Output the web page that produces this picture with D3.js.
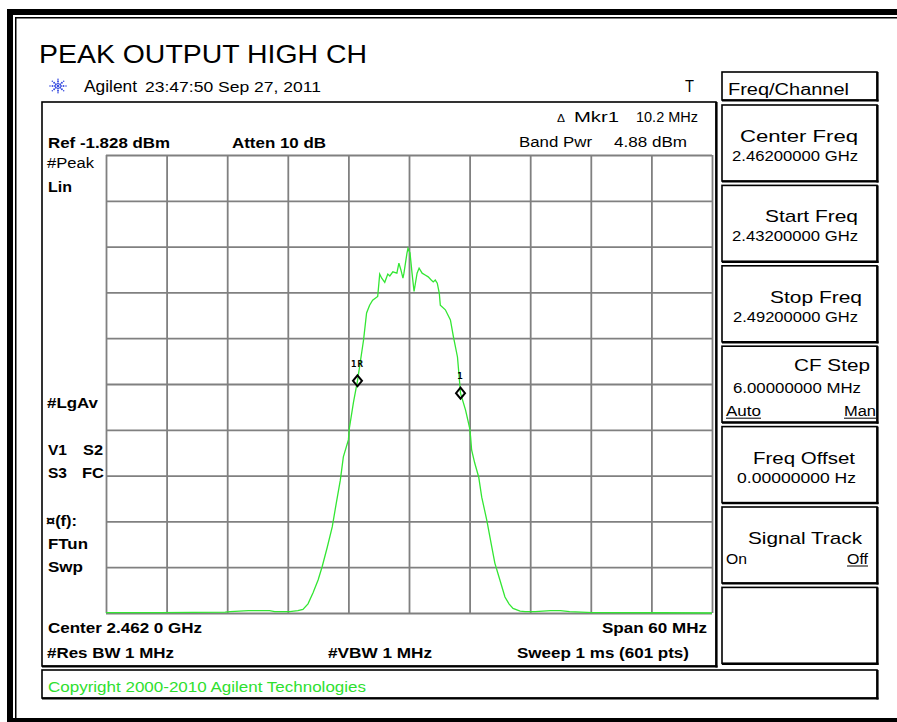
<!DOCTYPE html>
<html lang="en">
<head>
<meta charset="UTF-8">
<title>PEAK OUTPUT HIGH CH</title>
<script src="https://d3js.org/d3.v7.min.js"></script>
<style>
  body { margin: 0; padding: 0; background: #fff; }
  svg { display: block; font-family: "Liberation Sans", Arial, sans-serif; }
</style>
</head>
<body>
<div id="chart"></div>
<script>
// trace: frequency (MHz) and level (% of reference, linear)
const freqMHz = [
  2432.0, 2437.3, 2443.8, 2444.3, 2446.1, 2448.2, 2448.7, 2450.2, 2451.0, 2451.5,
  2452.0, 2452.5, 2453.0, 2453.4, 2453.9, 2454.4, 2454.8, 2455.2, 2455.5, 2456.0,
  2456.1, 2456.5, 2456.9, 2457.5, 2457.8, 2458.1, 2458.4, 2458.9, 2459.1, 2459.3,
  2459.6, 2459.9, 2460.1, 2460.4, 2460.8, 2461.0, 2461.2, 2461.4, 2461.5, 2461.8,
  2461.9, 2462.1, 2462.3, 2462.5, 2462.8, 2463.0, 2463.3, 2463.6, 2463.9, 2464.2,
  2464.4, 2464.6, 2464.8, 2465.0, 2465.1, 2465.6, 2466.1, 2466.4, 2466.8, 2467.1,
  2467.6, 2468.0, 2468.1, 2468.2, 2468.5, 2468.9, 2469.2, 2469.7, 2470.2, 2470.5,
  2471.0, 2471.5, 2471.9, 2472.3, 2473.0, 2473.5, 2474.5, 2476.0, 2477.0, 2477.9,
  2480.2, 2486.9, 2492.0
];
const levelPct = [
  0.1, 0.1, 0.2, 0.3, 0.5, 0.5, 0.3, 0.3, 0.5, 0.8,
  2.0, 4.4, 7.2, 10.1, 14.3, 18.8, 24.0, 29.0, 34.1, 37.8,
  40.4, 46.0, 50.7, 59.6, 65.5, 67.2, 68.3, 69.1, 74.0, 73.1,
  72.2, 74.0, 73.6, 74.5, 74.2, 76.4, 74.9, 73.1, 74.2, 78.6,
  79.6, 78.6, 74.2, 70.2, 74.2, 75.3, 74.2, 73.8, 73.4, 72.7,
  72.3, 72.7, 72.0, 69.8, 67.2, 66.2, 64.0, 60.3, 55.9, 48.0,
  44.3, 40.4, 38.4, 35.6, 32.8, 29.7, 25.3, 20.3, 14.4, 10.9,
  7.2, 3.5, 2.0, 1.0, 0.4, 0.3, 0.3, 0.5, 0.5, 0.3,
  0.1, 0.05, 0.0
];

const freqTicks = [2432, 2438, 2444, 2450, 2456, 2462, 2468, 2474, 2480, 2486, 2492];
const levelTicks = [0, 10, 20, 30, 40, 50, 60, 70, 80, 90, 100];

const markerNames = ["1R", "1"];
const markerFreqs = [2456.9, 2467.1];
const markerLevels = [50.7, 48.0];

const softkeyTitles = ["Center Freq", "Start Freq", "Stop Freq", "CF Step", "Freq Offset", "Signal Track", ""];
const softkeyValues = ["2.46200000 GHz", "2.43200000 GHz", "2.49200000 GHz", "6.00000000 MHz", "0.00000000  Hz", "", ""];

const W = 897, H = 722;
const svg = d3.select("#chart").append("svg").attr("width", W).attr("height", H);

// outer frame
svg.append("rect").attr("x", 7).attr("y", 9).attr("width", W - 7).attr("height", 6).attr("fill", "#000");
svg.append("rect").attr("x", 7).attr("y", 9).attr("width", 6).attr("height", H - 9).attr("fill", "#000");
svg.append("rect").attr("x", 7).attr("y", 718).attr("width", W - 7).attr("height", 4).attr("fill", "#000");
svg.append("rect").attr("x", 15).attr("y", 17).attr("width", W - 15).attr("height", 1.5).attr("fill", "#000");
svg.append("rect").attr("x", 15).attr("y", 17).attr("width", 1.5).attr("height", H - 17).attr("fill", "#000");

// helper: text squeezed/stretched to a measured width
function label(txt, x0, x1, y, size, opts = {}) {
  const t = svg.append("text")
    .attr("x", x0).attr("y", y)
    .attr("font-size", size)
    .attr("font-weight", opts.bold ? "bold" : "normal")
    .attr("fill", opts.color || "#000")
    .text(txt);
  if (x1 != null) t.attr("textLength", x1 - x0).attr("lengthAdjust", "spacingAndGlyphs");
  return t;
}

// 3d-ish box: thin top/left, heavier right/bottom
function box(x, y, w, h) {
  const g = svg.append("g");
  g.append("rect").attr("x", x).attr("y", y).attr("width", w).attr("height", h)
    .attr("fill", "none").attr("stroke", "#000").attr("stroke-width", 1.6);
  g.append("line").attr("x1", x + w + 0.5).attr("x2", x + w + 0.5).attr("y1", y).attr("y2", y + h + 1.5)
    .attr("stroke", "#000").attr("stroke-width", 2.2);
  g.append("line").attr("x1", x).attr("x2", x + w + 1.5).attr("y1", y + h + 0.5).attr("y2", y + h + 0.5)
    .attr("stroke", "#000").attr("stroke-width", 2.2);
}

// title
label("PEAK OUTPUT HIGH CH", 39, 367, 63, 25);

// agilent spark logo
const logo = svg.append("g").attr("transform", "translate(58,86)");
d3.range(8).forEach(i => {
  const a = i * Math.PI / 4;
  [3, 5.5, 8].forEach(r => {
    logo.append("circle").attr("cx", Math.cos(a) * r).attr("cy", Math.sin(a) * r * 0.85)
      .attr("r", r === 8 ? 0.8 : 1).attr("fill", "#3b4fe0");
  });
});
logo.append("circle").attr("r", 1.3).attr("fill", "#3b4fe0");

label("Agilent", 84, 137, 92, 16);
label("23:47:50  Sep 27, 2011", 145, 321, 92, 15);
label("T", 685, 694, 92, 16);

// screen frame
box(42, 102, 674, 564);

// annotations inside screen
label("\u0394", 557, 565, 122, 10);
label("Mkr1", 574, 619, 122, 14);
label("10.2 MHz", 636, 698, 122, 14);
label("Band Pwr", 519, 592, 147, 14);
label("4.88 dBm", 614, 687, 147, 14);
label("Ref -1.828 dBm", 48, 170, 148, 15, { bold: true });
label("Atten 10 dB", 232, 326, 148, 15, { bold: true });
label("#Peak", 47, 94, 168, 14);
label("Lin", 48, 72, 192, 15, { bold: true });
label("#LgAv", 47, 98, 408, 15, { bold: true });
label("V1", 48, 67, 455, 15, { bold: true });
label("S2", 83, 103, 455, 15, { bold: true });
label("S3", 48, 67, 478, 15, { bold: true });
label("FC", 82, 104, 478, 15, { bold: true });
label("\u00a4(f):", 46, 77, 526, 15, { bold: true });
label("FTun", 48, 88, 549, 15, { bold: true });
label("Swp", 48, 83, 572, 15, { bold: true });
label("Center 2.462 0 GHz", 48, 202, 633, 15, { bold: true });
label("Span 60 MHz", 602, 707, 633, 15, { bold: true });
label("#Res BW 1 MHz", 47, 174, 658, 15, { bold: true });
label("#VBW 1 MHz", 328, 432, 658, 15, { bold: true });
label("Sweep 1 ms (601 pts)", 517, 689, 658, 15, { bold: true });

// graticule
const x = d3.scaleLinear().domain([2432, 2492]).range([106, 712]);
const y = d3.scaleLinear().domain([0, 100]).range([613, 155]);

const gx = svg.append("g").attr("transform", `translate(0,${y(0)})`)
  .call(d3.axisBottom(x).tickValues(freqTicks).tickSize(-(y(0) - y(100))).tickFormat(""));
const gy = svg.append("g").attr("transform", `translate(${x(2432)},0)`)
  .call(d3.axisLeft(y).tickValues(levelTicks).tickSize(-(x(2492) - x(2432))).tickFormat(""));
[gx, gy].forEach(g => {
  g.select(".domain").remove();
  g.selectAll(".tick line").attr("stroke", "#808080").attr("stroke-width", 1.8);
});

// trace
const pts = freqMHz.map((f, i) => [f, levelPct[i]]);
svg.append("path")
  .datum(pts)
  .attr("fill", "none")
  .attr("stroke", "#33e633")
  .attr("stroke-width", 1.3)
  .attr("d", d3.line().x(d => x(d[0])).y(d => y(d[1])));

// markers
markerNames.forEach((m, i) => {
  const g = svg.append("g").attr("transform", `translate(${x(markerFreqs[i])},${y(markerLevels[i])})`);
  g.append("path").attr("d", "M0,-5.5 L4.5,0 L0,5.5 L-4.5,0 Z")
    .attr("fill", "none").attr("stroke", "#000").attr("stroke-width", 2);
  g.append("text").attr("y", -14).attr("text-anchor", "middle")
    .attr("font-family", "'DejaVu Sans Mono', monospace").attr("font-size", 9)
    .attr("font-weight", "bold").attr("letter-spacing", 1).text(m);
});

// softkey panel
box(722, 72, 155, 28);
label("Freq/Channel", 728, 849, 95, 16);

const keyTop = 105, keyStep = 80.4, keyH = 76;
softkeyTitles.forEach((t, i) => {
  const top = keyTop + i * keyStep;
  box(722, top, 155, keyH);
});
// key captions (right aligned caption, value below)
const capSpans = [[740, 858], [765, 858], [770, 862], [794, 870], [753, 855], [748, 862]];
const valSpans = [[732, 858], [732, 858], [733, 858], [733, 861], [737, 856]];
softkeyTitles.forEach((t, i) => {
  if (!t) return;
  const top = keyTop + i * keyStep;
  const capY = i === 3 ? top + 25 : top + 37;
  label(t, capSpans[i][0], capSpans[i][1], capY, 17);
  if (softkeyValues[i]) {
    const valY = i === 3 ? top + 47 : top + 56;
    label(softkeyValues[i], valSpans[i][0], valSpans[i][1], valY, 14);
  }
});
function underlined(txt, x0, x1, yb) {
  label(txt, x0, x1, yb, 14);
  svg.append("line").attr("x1", x0).attr("x2", x1).attr("y1", yb + 2).attr("y2", yb + 2)
    .attr("stroke", "#000").attr("stroke-width", 1);
}
const cfTop = keyTop + 3 * keyStep, stTop = keyTop + 5 * keyStep;
underlined("Auto", 726, 761, cfTop + 70);
underlined("Man", 844, 876, cfTop + 70);
label("On", 726, 747, stTop + 57, 14);
underlined("Off", 847, 868, stTop + 57);

// footer
box(42, 670, 835, 28);
label("Copyright 2000-2010 Agilent Technologies", 48, 366, 692, 14, { color: "#2ee02e" });
</script>
</body>
</html>
